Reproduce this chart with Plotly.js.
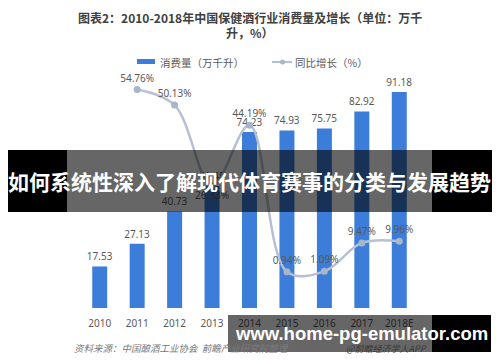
<!DOCTYPE html>
<html>
<head>
<meta charset="utf-8">
<script src="https://cdn.plot.ly/plotly-3.0.1.min.js"></script>
<style>
  html, body { margin: 0; padding: 0; background: #ffffff; }
  #chart { width: 500px; height: 362px; }
</style>
</head>
<body>
<div id="chart"></div>
<script>
// ---- data ----
const years = ['2010', '2011', '2012', '2013', '2014', '2015', '2016', '2017', '2018E'];
const consumption = [17.53, 27.13, 40.73, 51.45, 74.23, 74.93, 75.75, 82.92, 91.18];
const growth = [null, 54.76, 50.13, 26.33, 44.19, 0.94, 1.09, 9.47, 9.96];
const growthLabelPos = ['top center', 'top center', 'top center', 'bottom center', 'top center', 'top center', 'top center', 'top center', 'top center'];

const titleLine1 = '图表2：2010-2018年中国保健酒行业消费量及增长（单位：万千';
const titleLine2 = '升，%）';
const legendBar = '消费量（万千升）';
const legendLine = '同比增长（%）';
const sourceText = '资料来源：中国酿酒工业协会  前瞻产业研究院整理';
const sourceText2 = '@前瞻经济学人APP';
const bannerText = '如何系统性深入了解现代体育赛事的分类与发展趋势';
const urlText = 'www.home-pg-emulator.com';

// ---- layout geometry ----
const W = 500, H = 362;
const M = { l: 81, r: 82, t: 75, b: 54 };
const PW = W - M.l - M.r, PH = H - M.t - M.b;
const px = x => (x - M.l) / PW;
const py = y => (H - M.b - y) / PH;

const barColor = '#3b7dd8';
const lineColor = '#b7c0d2';
const markerColor = '#a9b5cb';
const txtFont = 'Noto Sans, Noto Sans CJK SC, sans-serif';
const cjkFont = 'Noto Sans CJK SC, sans-serif';

const bars = {
  type: 'bar',
  x: years,
  y: consumption,
  marker: { color: barColor },
  width: 0.4,
  texttemplate: '%{y:.2f}',
  textposition: 'outside',
  constraintext: 'none',
  cliponaxis: false,
  textfont: { family: txtFont, size: 10, color: '#595959' },
  hoverinfo: 'skip',
  showlegend: false
};

const line = {
  type: 'scatter',
  mode: 'lines+markers+text',
  x: years,
  y: growth,
  yaxis: 'y2',
  line: { color: lineColor, width: 2.5, shape: 'spline', smoothing: 1 },
  marker: { color: markerColor, size: 7 },
  texttemplate: '%{y:.2f}%',
  textposition: growthLabelPos,
  textfont: { family: txtFont, size: 10, color: '#595959' },
  cliponaxis: false,
  connectgaps: false,
  hoverinfo: 'skip',
  showlegend: false
};

const shapes = [
  // legend icons
  { type: 'rect', xref: 'paper', yref: 'paper', x0: px(137), x1: px(155), y0: py(64), y1: py(59),
    fillcolor: barColor, line: { width: 0 } },
  { type: 'line', xref: 'paper', yref: 'paper', x0: px(272), x1: px(292), y0: py(62), y1: py(62),
    line: { color: lineColor, width: 2 } },
  { type: 'circle', xref: 'paper', yref: 'paper', x0: px(280), x1: px(285), y0: py(64.5), y1: py(59.5),
    fillcolor: markerColor, line: { width: 0 } },
  // title banner
  { type: 'rect', xref: 'paper', yref: 'paper', layer: 'above', x0: px(8), x1: px(67), y0: py(212), y1: py(150),
    fillcolor: '#000000', line: { width: 0 } },
  { type: 'rect', xref: 'paper', yref: 'paper', layer: 'above', x0: px(67), x1: px(432), y0: py(212), y1: py(150),
    fillcolor: 'rgba(0,0,0,0.6)', line: { width: 0 } },
  { type: 'rect', xref: 'paper', yref: 'paper', layer: 'above', x0: px(432), x1: px(492), y0: py(212), y1: py(150),
    fillcolor: '#000000', line: { width: 0 } },
  // url banner
  { type: 'rect', xref: 'paper', yref: 'paper', layer: 'above', x0: px(228), x1: px(432), y0: py(352), y1: py(315),
    fillcolor: 'rgba(0,0,0,0.6)', line: { width: 0 } },
  { type: 'rect', xref: 'paper', yref: 'paper', layer: 'above', x0: px(432), x1: px(491), y0: py(352), y1: py(315),
    fillcolor: '#000000', line: { width: 0 } }
];

const ann = (text, x, y, font, xanchor) => ({
  text, xref: 'paper', yref: 'paper', x: px(x), y: py(y),
  xanchor: xanchor || 'left', yanchor: 'middle', showarrow: false, font
});

const titleFont = { family: cjkFont, size: 12, color: '#404040' };

const annotations = [
  ann('<b>' + titleLine1 + '</b>', 250, 17, titleFont, 'center'),
  ann('<b>' + titleLine2 + '</b>', 250, 32, titleFont, 'center'),
  ann(legendBar, 158, 62, { family: cjkFont, size: 10.5, color: '#595959' }),
  ann(legendLine, 293, 62, { family: cjkFont, size: 10.5, color: '#595959' }),
  ann('<i>' + sourceText + '</i>', 72, 348, { family: cjkFont, size: 9.5, color: '#7a7a7a' }),
  ann('<i>' + sourceText2 + '</i>', 344, 348, { family: cjkFont, size: 9, color: '#3a3a3a' }),
  ann('<b>' + bannerText + '</b>', 249, 181, { family: cjkFont, size: 21, color: '#ffffff' }, 'center'),
  ann('<b>' + urlText + '</b>', 361, 333, { family: 'Liberation Sans, Arial, sans-serif', size: 18.5, color: '#ffffff' }, 'center')
];

const layout = {
  width: W, height: H,
  margin: M,
  paper_bgcolor: '#ffffff',
  plot_bgcolor: '#ffffff',
  xaxis: {
    type: 'category',
    range: [-0.5, 8.5],
    showgrid: false, zeroline: false, showline: false,
    ticks: 'outside', ticklen: 6, tickcolor: 'rgba(0,0,0,0)',
    tickfont: { family: txtFont, size: 10, color: '#595959' },
    fixedrange: true
  },
  yaxis: {
    range: [0, PH / 2.37],
    visible: false, fixedrange: true
  },
  yaxis2: {
    overlaying: 'y',
    range: [(275 - (H - M.b)) / 3.389, (275 - M.t) / 3.389],
    visible: false, fixedrange: true
  },
  shapes, annotations,
  showlegend: false
};

Plotly.newPlot('chart', [bars, line], layout, { displayModeBar: false, staticPlot: true });
</script>
</body>
</html>
